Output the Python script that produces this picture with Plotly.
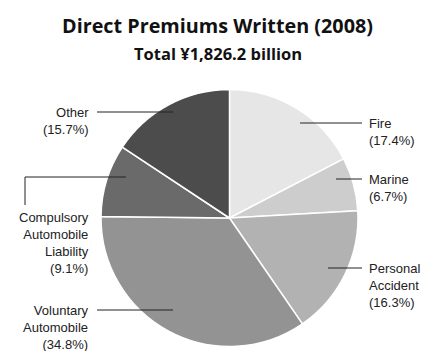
import plotly.graph_objects as go

# Direct premiums written by line of business, 2008 (share of total, %)
categories = ["Fire", "Marine", "Personal Accident", "Voluntary Automobile",
              "Compulsory Automobile Liability", "Other"]
shares = [17.4, 6.7, 16.3, 34.8, 9.1, 15.7]
label_lines = [["Fire"], ["Marine"], ["Personal", "Accident"],
               ["Voluntary", "Automobile"], ["Compulsory", "Automobile", "Liability"],
               ["Other"]]
slice_colors = ["#e6e6e6", "#cdcdcd", "#b2b2b2", "#939393", "#6a6a6a", "#4c4c4c"]

W, H = 421, 351
CX, CY, R = 229.5, 218, 128.5


def px(x):
    return x / W


def py(y):
    return 1 - y / H


fig = go.Figure()
fig.add_trace(go.Pie(
    labels=categories,
    values=shares,
    sort=False,
    direction="clockwise",
    rotation=0,
    marker=dict(colors=slice_colors, line=dict(color="white", width=1.5)),
    textinfo="none",
    hoverinfo="label+percent",
    showlegend=False,
    domain=dict(x=[px(CX - R), px(CX + R)], y=[py(CY + R), py(CY - R)]),
))

# leader line layout: (inner x, outer x, y, side)
leaders = [
    (300, 362, 123, "right"),
    (336, 362, 179, "right"),
    (328, 362, 268, "right"),
    (173, 97, 310, "left"),
    (126, 25, 177, "elbow"),
    (173, 97, 112, "left"),
]

shapes = []
annotations = []
line_style = dict(color="#222222", width=1)
for lines, val, (xi, xo, y, side) in zip(label_lines, shares, leaders):
    text = "<br>".join(lines + [f"({val}%)"])
    shapes.append(dict(type="line", xref="paper", yref="paper",
                       x0=px(xi), x1=px(xo), y0=py(y), y1=py(y), line=line_style))
    if side == "right":
        annotations.append(dict(x=px(xo + 5), y=py(y - 9), xref="paper", yref="paper",
                                text=text, showarrow=False, xanchor="left",
                                yanchor="top", align="left"))
    elif side == "left":
        annotations.append(dict(x=px(xo - 6), y=py(y - 9), xref="paper", yref="paper",
                                text=text, showarrow=False, xanchor="right",
                                yanchor="top", align="right"))
    else:
        shapes.append(dict(type="line", xref="paper", yref="paper",
                           x0=px(xo), x1=px(xo), y0=py(y), y1=py(y + 28), line=line_style))
        annotations.append(dict(x=px(91), y=py(y + 31), xref="paper", yref="paper",
                                text=text, showarrow=False, xanchor="right",
                                yanchor="top", align="right"))

annotations.append(dict(x=px(218), y=py(25), xref="paper", yref="paper",
                        text="<b>Direct Premiums Written (2008)</b>", showarrow=False,
                        xanchor="center", yanchor="middle",
                        font=dict(family="Open Sans", size=19.8, color="#111111")))
annotations.append(dict(x=px(218), y=py(53), xref="paper", yref="paper",
                        text="<b>Total ¥1,826.2 billion</b>", showarrow=False,
                        xanchor="center", yanchor="middle",
                        font=dict(family="Open Sans", size=16.5, color="#111111")))

fig.update_layout(
    width=W, height=H,
    margin=dict(l=0, r=0, t=0, b=0),
    paper_bgcolor="white",
    plot_bgcolor="white",
    font=dict(family="Liberation Sans, Arial, sans-serif", size=13, color="#222222"),
    shapes=shapes,
    annotations=annotations,
)

fig.write_html("out.html")
